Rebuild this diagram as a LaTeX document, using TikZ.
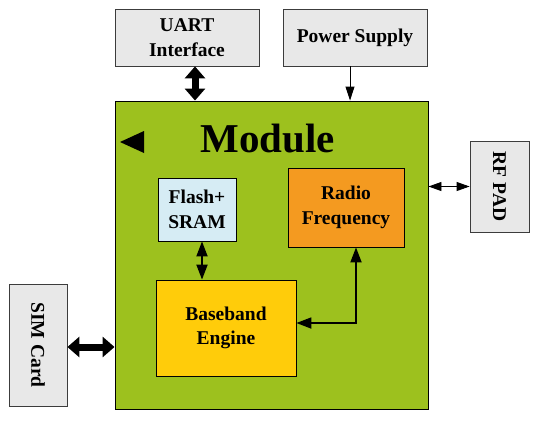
\documentclass[tikz,border=0pt]{standalone}
\usepackage{fontspec}
\setmainfont{Liberation Serif}
\usetikzlibrary{arrows.meta}
\definecolor{modgreen}{RGB}{157,193,30}
\definecolor{rforange}{RGB}{244,154,32}
\definecolor{bbyellow}{RGB}{255,204,10}
\definecolor{flashblue}{RGB}{214,236,244}
\definecolor{boxgray}{RGB}{232,232,232}
\definecolor{edgegray}{RGB}{60,60,60}
\begin{document}
\begin{tikzpicture}[x=1pt,y=-1pt,
  txt/.style={font=\fontsize{19.5}{24.5}\selectfont\bfseries, align=center, inner sep=0pt},
  graybox/.style={txt, draw=edgegray, line width=0.8pt, fill=boxgray},
  inbox/.style={txt, draw=black, line width=0.8pt},
  bigarrow/.style={line width=7pt, {Triangle[length=12pt,width=20pt]}-{Triangle[length=12pt,width=20pt]}},
  medarrow/.style={line width=1.8pt, {Triangle[length=15pt,width=11pt]}-{Triangle[length=15pt,width=11pt]}},
  thinarrow/.style={line width=0.9pt, -{Triangle[length=14pt,width=9pt]}},
  padarrow/.style={line width=0.9pt, {Triangle[length=13pt,width=9pt]}-{Triangle[length=13pt,width=9pt]}}
]
\useasboundingbox (0,0) rectangle (535,421);
\fill[white] (0,0) rectangle (535,421);

% module
\node[draw=black, line width=0.9pt, fill=modgreen, minimum width=313pt, minimum height=308pt, inner sep=0pt] (module) at (271.5,255) {};
\node[font=\fontsize{41}{41}\selectfont\bfseries, anchor=base, inner sep=0pt] (modtitle) at (267.5,152) {Module};
\fill (120,142) -- (144,131) -- (144,153) -- cycle;

% outer boxes
\node[graybox, minimum width=144pt, minimum height=57pt] (uart) at (187,37.5) {UART\\Interface};
\node[graybox, minimum width=144pt, minimum height=57pt] (power) at (355,37.5) {Power Supply};
\node[graybox, minimum width=58pt, minimum height=122pt] (sim) at (38,345) {\rotatebox{-90}{SIM Card}};
\node[graybox, minimum width=59pt, minimum height=91pt] (rfpad) at (499.5,186.5) {\rotatebox{-90}{RF PAD}};

% inner boxes
\node[inbox, fill=flashblue, minimum width=78pt, minimum height=63pt] (flash) at (197,209.5) {Flash+\\SRAM};
\node[inbox, fill=rforange, minimum width=116pt, minimum height=79pt] (rf) at (346,207.5) {Radio\\Frequency};
\node[inbox, fill=bbyellow, minimum width=140pt, minimum height=96pt] (bb) at (226,328) {Baseband\\Engine};

% connectors
\draw[bigarrow] ([xshift=8pt]uart.south) -- ([xshift=8pt]uart.south |- module.north);
\draw[thinarrow] ([xshift=-5pt]power.south) -- ([xshift=-5pt]power.south |- module.north);
\draw[bigarrow] ([yshift=-2pt]sim.east) -- ([yshift=-2pt]sim.east -| module.west);
\draw[padarrow] (rfpad.west) -- (rfpad.west -| module.east);
\draw[medarrow] ([xshift=5pt]flash.south) -- ([xshift=5pt]flash.south |- bb.north);
\draw[medarrow] ([xshift=10pt]rf.south) |- ([yshift=5pt]bb.east);
\end{tikzpicture}
\end{document}
